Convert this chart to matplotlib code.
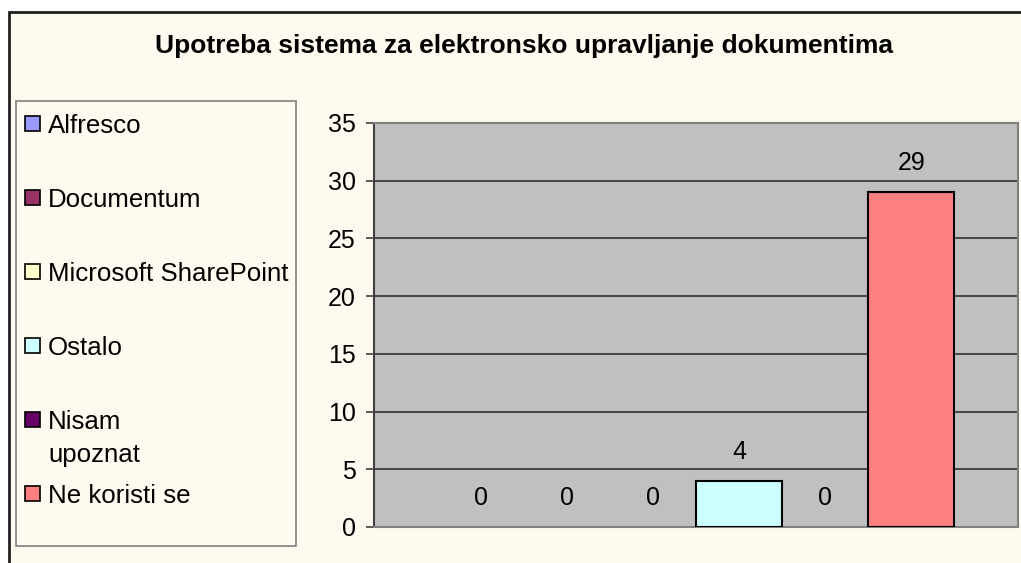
import matplotlib.pyplot as plt
from matplotlib.patches import Rectangle

plt.rcParams['font.family'] = ['Liberation Sans', 'DejaVu Sans']

# podaci
kategorije = ['Alfresco', 'Documentum', 'Microsoft SharePoint', 'Ostalo',
              'Nisam\nupoznat', 'Ne koristi se']
vrijednosti = [0, 0, 0, 4, 0, 29]
boje = ['#9999FF', '#993366', '#FFFFCC', '#CCFFFF', '#660066', '#FF8080']
y_ticks = [0, 5, 10, 15, 20, 25, 30, 35]
naslov = 'Upotreba sistema za elektronsko upravljanje dokumentima'

W, H = 1021, 563
pozadina = '#FFFAEF'

fig = plt.figure(figsize=(W / 100, H / 100), dpi=100)
fig.patch.set_facecolor('white')


def fx(px):
    return px / W


def fy(py):
    return 1 - py / H


# okvir grafikona (ispod osi)
fig.patches.append(Rectangle((fx(9), fy(600)), fx(1100), 588 / H,
                             transform=fig.transFigure, facecolor=pozadina,
                             edgecolor='#202020', lw=2, zorder=-5))

fig.text(fx(524), fy(46), naslov, ha='center', va='center',
         fontsize=19, fontweight='bold')

# legenda - rucno
fig.patches.append(Rectangle((fx(16), fy(546)), fx(280), 445 / H,
                             transform=fig.transFigure, facecolor=pozadina,
                             edgecolor='#808080', lw=1.2, zorder=-4))
for i, (lab, c) in enumerate(zip(kategorije, boje)):
    y = 124 + 74 * i
    fig.patches.append(Rectangle((fx(25), fy(y + 7)), fx(15), 15 / H,
                                 transform=fig.transFigure, facecolor=c,
                                 edgecolor='black', lw=1.2, zorder=-3))
    for j, red in enumerate(lab.split('\n')):
        fig.text(fx(48), fy(y + 9 + 33 * j), red, ha='left', va='baseline',
                 fontsize=18.6)

ax = fig.add_axes([fx(374), fy(527), fx(1018 - 374), (527 - 123) / H])
ax.set_facecolor('#C0C0C0')
x = range(len(vrijednosti))
rubovi = ['black' if v > 0 else 'none' for v in vrijednosti]
bars = ax.bar(x, vrijednosti, width=1.0, color=boje, edgecolor=rubovi,
              lw=1.5, zorder=3)
for xi, v in zip(x, vrijednosti):
    ax.annotate(str(v), (xi, v), xytext=(0, 21), textcoords='offset points',
                ha='center', va='center', fontsize=18)

ax.set_xlim(-1.24, 6.24)
ax.set_ylim(0, 35)
ax.set_yticks(y_ticks)
ax.set_xticks([])
ax.grid(axis='y', color='#303030', lw=1.2, zorder=1)
ax.tick_params(axis='y', labelsize=18, length=6, width=1.2, pad=7,
               color='#404040')
for s in ['top', 'right', 'bottom']:
    ax.spines[s].set_color('#808080')
    ax.spines[s].set_linewidth(1.5)
ax.spines['left'].set_color('#404040')
ax.spines['left'].set_linewidth(1.5)

fig.savefig('out.png', dpi=100, facecolor=fig.get_facecolor())
